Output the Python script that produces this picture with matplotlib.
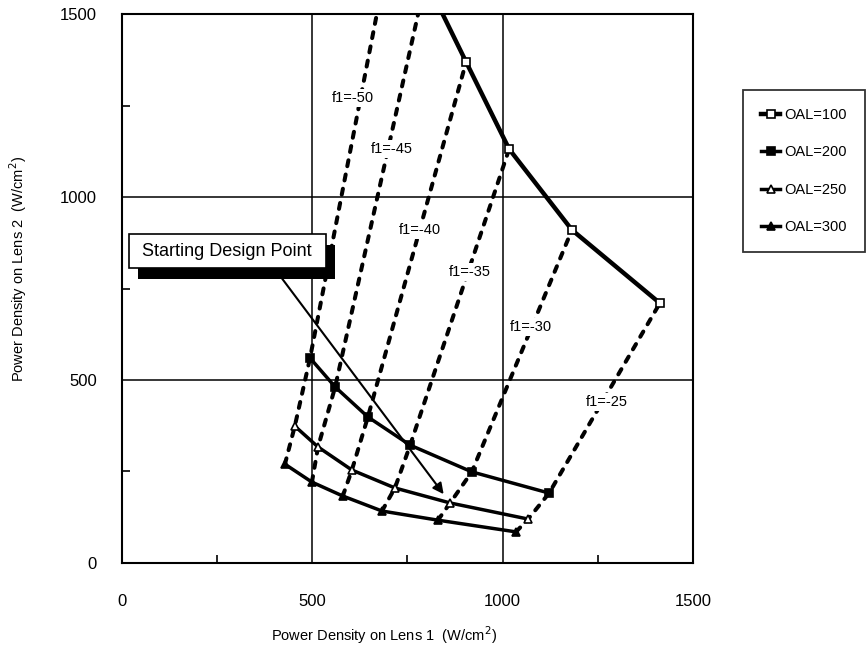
import matplotlib.pyplot as plt
import matplotlib.patheffects as pe
from matplotlib.ticker import MultipleLocator

plt.rcParams.update({
    "font.family": ["Liberation Sans", "DejaVu Sans"],
    "font.size": 11,
    "axes.facecolor": "white",
    "figure.facecolor": "white",
})

# one point per f1 value on every OAL curve
f1_values = [-50, -45, -40, -35, -30, -25]
oal100_x = [718, 798, 904, 1017, 1182, 1413]
oal100_y = [1760, 1594, 1369, 1131, 910, 710]
oal200_x = [494, 560, 646, 757, 919, 1122]
oal200_y = [560, 481, 399, 322, 249, 191]
oal250_x = [454, 515, 604, 717, 862, 1067]
oal250_y = [374, 317, 254, 205, 164, 120]
oal300_x = [428, 499, 580, 683, 830, 1035]
oal300_y = [270, 221, 183, 142, 117, 85]

oal_labels = ["OAL=100", "OAL=200", "OAL=250", "OAL=300"]

# where the f1 labels sit (data coords)
f1_label_x = [607, 709, 783, 914, 1074, 1274]
f1_label_y = [1271, 1131, 910, 795, 645, 440]

start_tail = (394, 814)
start_head = (845, 188)

fig = plt.figure(figsize=(8.67, 6.46), dpi=100)
ax = fig.add_axes([0.1407, 0.1285, 0.6586, 0.8498])

# dashed constant-f1 curves
for i, f1 in enumerate(f1_values):
    xs = [oal300_x[i], oal250_x[i], oal200_x[i], oal100_x[i]]
    ys = [oal300_y[i], oal250_y[i], oal200_y[i], oal100_y[i]]
    ax.plot(xs, ys, color="black", lw=2.9, dashes=(1.5, 2.1),
            dash_capstyle="round", zorder=2)
    ax.text(f1_label_x[i], f1_label_y[i], f"f1=-{abs(f1)}", fontsize=10.5,
            ha="center", va="center", zorder=4,
            bbox=dict(facecolor="white", edgecolor="none", pad=1.5))

series = [
    (oal100_x, oal100_y, "s", "white", 3.2),
    (oal200_x, oal200_y, "s", "black", 2.5),
    (oal250_x, oal250_y, "^", "white", 2.5),
    (oal300_x, oal300_y, "^", "black", 2.5),
]
for (xs, ys, mk, fc, lw), lab in zip(series, oal_labels):
    ax.plot(xs, ys, color="black", lw=lw, marker=mk, markersize=5.5,
            markerfacecolor=fc, markeredgecolor="black", markeredgewidth=1.2,
            label=lab, zorder=3)

# starting design point callout
ax.annotate("", xy=start_head, xytext=start_tail,
            arrowprops=dict(arrowstyle="-|>", color="black", lw=1.5,
                            mutation_scale=16, shrinkA=0, shrinkB=0),
            zorder=5)
box = ax.text(276, 852, " Starting Design Point ", fontsize=13,
              ha="center", va="center", zorder=6,
              bbox=dict(boxstyle="square,pad=0.48", facecolor="white",
                        edgecolor="black", lw=1.2))
box.get_bbox_patch().set_path_effects([
    pe.SimplePatchShadow(offset=(7, -8), shadow_rgbFace="black", alpha=1.0),
    pe.Normal(),
])

ax.set_xlim(0, 1500)
ax.set_ylim(0, 1500)
ax.xaxis.set_major_locator(MultipleLocator(500))
ax.yaxis.set_major_locator(MultipleLocator(500))
ax.xaxis.set_minor_locator(MultipleLocator(250))
ax.yaxis.set_minor_locator(MultipleLocator(250))
ax.tick_params(which="major", length=0, labelsize=12)
ax.tick_params(axis="x", which="major", pad=22)
ax.tick_params(axis="y", which="major", pad=18)
ax.tick_params(which="minor", direction="in", length=6, width=1.2,
               top=False, right=False)
ax.grid(True, which="major", color="black", lw=1.1)
ax.set_axisbelow(True)
for s in ax.spines.values():
    s.set_linewidth(1.5)

ax.set_xlabel("Power Density on Lens 1  (W/cm$^2$)", fontsize=10.5)
ax.set_ylabel("Power Density on Lens 2  (W/cm$^2$)", fontsize=10.5)
ax.xaxis.set_label_coords(0.459, -0.112)
ax.yaxis.set_label_coords(-0.163, 0.535)

fig.legend(loc="upper left", bbox_to_anchor=(0.857, 0.861, 0.141, 0.0),
           mode="expand", frameon=True, fancybox=False, edgecolor="black",
           fontsize=10.5, handlelength=1.3, handletextpad=0.3,
           labelspacing=1.6, borderpad=1.25, borderaxespad=0)
fig.legends[0].get_frame().set_linewidth(1.3)

plt.savefig("out.png", dpi=100, facecolor="white")
